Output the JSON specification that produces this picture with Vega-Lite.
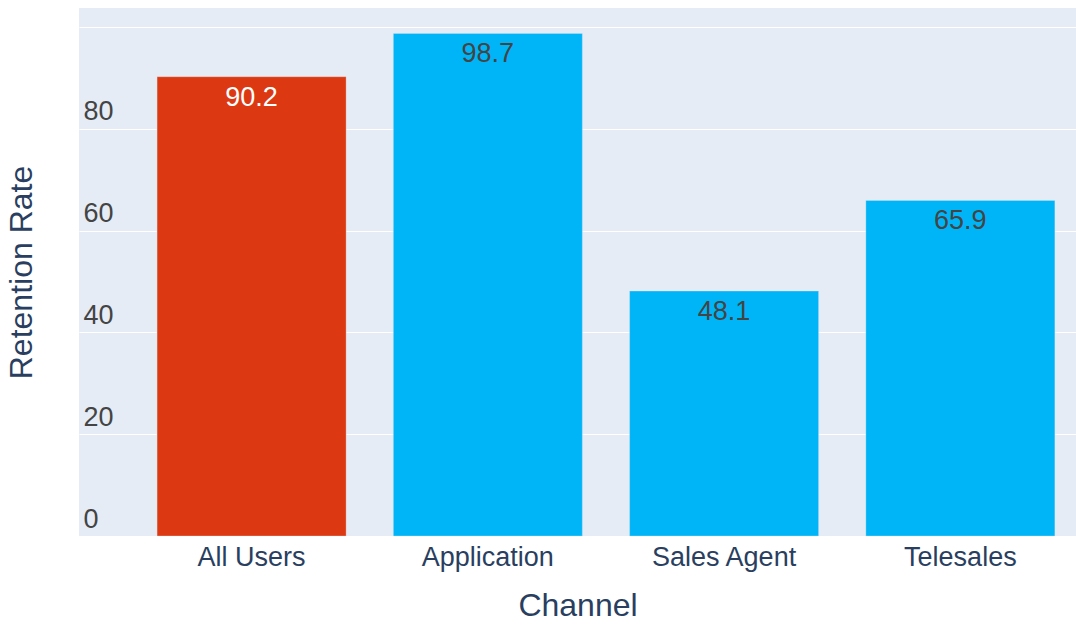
{
  "$schema": "https://vega.github.io/schema/vega-lite/v6.json",
  "autosize": {"type": "none"},
  "padding": {"left": 79, "top": 8, "right": 0, "bottom": 90},
  "width": 997,
  "height": 528,
  "background": "white",
  "config": {
    "view": {"fill": "#E5ECF6", "stroke": null},
    "font": "Liberation Sans"
  },
  "data": {
    "values": [
      {"Channel": "All Users", "Retention Rate": 90.2},
      {"Channel": "Application", "Retention Rate": 98.7},
      {"Channel": "Sales Agent", "Retention Rate": 48.1},
      {"Channel": "Telesales", "Retention Rate": 65.9}
    ]
  },
  "encoding": {
    "x": {
      "field": "Channel",
      "type": "nominal",
      "sort": null,
      "scale": {"paddingInner": 0.2, "paddingOuter": 0.21, "align": 0.787},
      "axis": {
        "title": "Channel",
        "titleFontSize": 32,
        "titleFontWeight": "normal",
        "titleColor": "#2a3f5f",
        "titlePadding": 20,
        "labelFontSize": 27,
        "labelColor": "#2a3f5f",
        "labelAngle": 0,
        "labelPadding": 8,
        "ticks": false,
        "tickSize": 0,
        "domain": false,
        "grid": false
      }
    },
    "y": {
      "field": "Retention Rate",
      "type": "quantitative",
      "scale": {"domain": [0, 103.7], "nice": false},
      "axis": {
        "title": "Retention Rate",
        "titleFontSize": 32,
        "titleFontWeight": "normal",
        "titleColor": "#2a3f5f",
        "titlePadding": 41,
        "values": [0, 20, 40, 60, 80, 100],
        "labelExpr": "datum.value == 100 ? '' : datum.label",
        "labelFontSize": 27,
        "labelColor": "#444444",
        "labelAlign": "left",
        "labelBaseline": "alphabetic",
        "labelOffset": -9,
        "labelPadding": -4,
        "ticks": false,
        "tickSize": 0,
        "domain": false,
        "grid": true,
        "gridColor": "white",
        "gridWidth": 1
      }
    }
  },
  "layer": [
    {
      "mark": {"type": "bar", "stroke": "#E5ECF6", "strokeWidth": 0.5, "strokeOpacity": 0.6},
      "encoding": {
        "color": {
          "condition": {"test": "datum.Channel == 'All Users'", "value": "#DC3912"},
          "value": "#00B5F7"
        }
      }
    },
    {
      "mark": {"type": "text", "baseline": "top", "dy": 8, "fontSize": 27},
      "encoding": {
        "text": {"field": "Retention Rate", "type": "quantitative", "format": ".1f"},
        "color": {
          "condition": {"test": "datum.Channel == 'All Users'", "value": "white"},
          "value": "#444444"
        }
      }
    }
  ]
}
